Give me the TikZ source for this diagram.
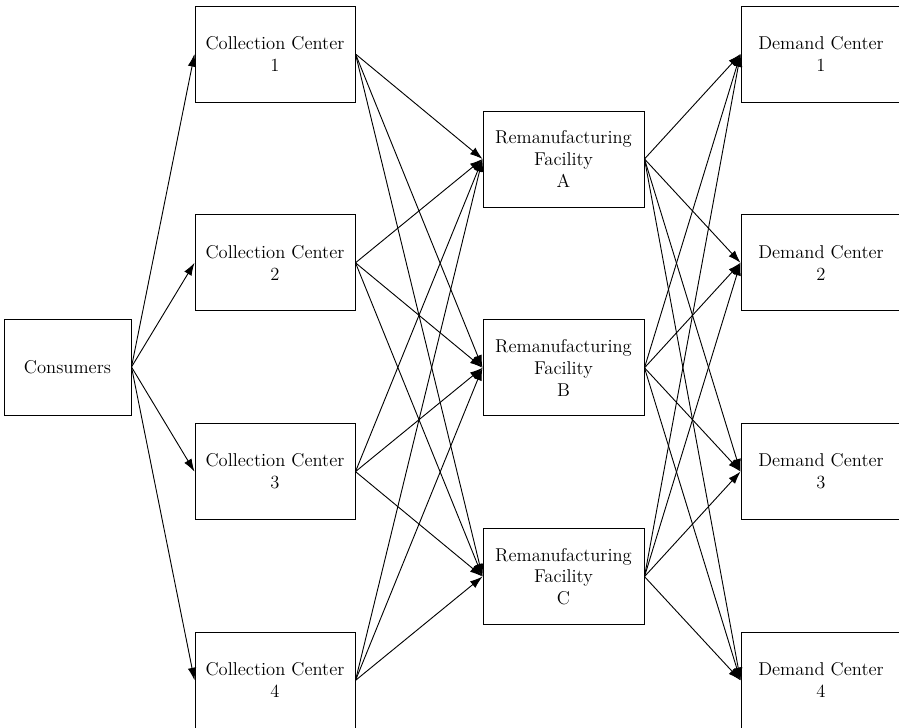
\documentclass[tikz,border=0pt]{standalone}
\usetikzlibrary{shapes, arrows.meta}
\tikzstyle{block} = [rectangle, draw, line width=0.7pt, align=center, text centered,
    minimum width=4cm, minimum height=2.4cm, inner sep=0pt,
    font=\fontsize{13.2}{15.6}\selectfont]
\tikzstyle{source} = [block, minimum width=3.175cm]
\tikzstyle{plant} = [block, minimum width=4.025cm]
\tikzstyle{line} = [draw, line width=0.65pt, -{Latex[length=9pt, width=6pt]}]

\begin{document}
\begin{tikzpicture}[node distance = 5.22cm, auto]
        \clip (0,0) rectangle (22.475,18.175);
        % Place nodes
        \node [source] (consumers) at (1.6875,9.0) {Consumers};
        \node [block] (cc1) at (6.875,16.825) {Collection Center\\1};
        \node [block, below of=cc1] (cc2) {Collection Center\\2};
        \node [block, below of=cc2] (cc3) {Collection Center\\3};
        \node [block, below of=cc3] (cc4) {Collection Center\\4};
        % Remanufacturing nodes
        \node [plant] (rfa) at (14.0875,14.2) {Remanufacturing\\Facility\\A};
        \node [plant, below of=rfa] (rfb) {Remanufacturing\\Facility\\B};
        \node [plant, below of=rfb] (rfc) {Remanufacturing\\Facility\\C};
        % Demand nodes
        \node [block, node distance=13.65cm, right of=cc1] (dc1) {Demand Center\\1};
        \node [block, below of=dc1] (dc2) {Demand Center\\2};
        \node [block, below of=dc2] (dc3) {Demand Center\\3};
        \node [block, below of=dc3] (dc4) {Demand Center\\4};
        % Draw edges
        \path [line] (consumers.east) -- (cc1.west);
        \path [line] (consumers.east) -- (cc2.west);
        \path [line] (consumers.east) -- (cc3.west);
        \path [line] (consumers.east) -- (cc4.west);
        \path [line] (cc1.east) -- (rfa.west);
        \path [line] (cc1.east) -- (rfb.west);
        \path [line] (cc1.east) -- (rfc.west);
        \path [line] (cc2.east) -- (rfa.west);
        \path [line] (cc2.east) -- (rfb.west);
        \path [line] (cc2.east) -- (rfc.west);
        \path [line] (cc3.east) -- (rfa.west);
        \path [line] (cc3.east) -- (rfb.west);
        \path [line] (cc3.east) -- (rfc.west);
        \path [line] (cc4.east) -- (rfa.west);
        \path [line] (cc4.east) -- (rfb.west);
        \path [line] (cc4.east) -- (rfc.west);
        \path [line] (rfa.east) -- (dc1.west);
        \path [line] (rfa.east) -- (dc2.west);
        \path [line] (rfa.east) -- (dc3.west);
        \path [line] (rfa.east) -- (dc4.west);
        \path [line] (rfb.east) -- (dc1.west);
        \path [line] (rfb.east) -- (dc2.west);
        \path [line] (rfb.east) -- (dc3.west);
        \path [line] (rfb.east) -- (dc4.west);
        \path [line] (rfc.east) -- (dc1.west);
        \path [line] (rfc.east) -- (dc2.west);
        \path [line] (rfc.east) -- (dc3.west);
        \path [line] (rfc.east) -- (dc4.west);
    \end{tikzpicture}
\end{document}
